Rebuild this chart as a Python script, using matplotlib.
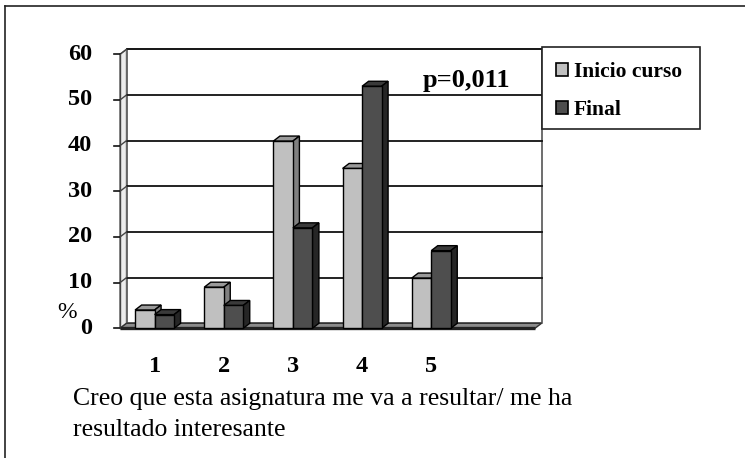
import matplotlib
matplotlib.use('Agg')
import matplotlib.pyplot as plt
from matplotlib.patches import Polygon, Patch, Rectangle
from matplotlib.lines import Line2D
import numpy as np

categories = ['1', '2', '3', '4', '5']
inicio = [4, 9, 41, 35, 11]
final = [3, 5, 22, 53, 17]
yticks = [0, 10, 20, 30, 40, 50, 60]
series_names = ['Inicio curso', 'Final']
p_text = 'p=0,011'
ylabel = '%'
caption = 'Creo que esta asignatura me va a resultar/ me ha\nresultado interesante'

plt.rcParams['font.family'] = ['Liberation Serif', 'DejaVu Serif']

W, H = 745, 458
fig = plt.figure(figsize=(W / 100, H / 100), dpi=100)

# pixel mapping of the front plane
nslots = 6
ymax = 60
x0_px, y0_px = 120, 328.3
px_per_x = 415 / nslots
px_per_y = 274 / ymax
ax_l, ax_r, ax_t, ax_b = 110, 552, 40, 338
ax = fig.add_axes([ax_l / W, 1 - ax_b / H, (ax_r - ax_l) / W, (ax_b - ax_t) / H])
ax.set_xlim((ax_l - x0_px) / px_per_x, (ax_r - x0_px) / px_per_x)
ax.set_ylim((y0_px - ax_b) / px_per_y, (y0_px - ax_t) / px_per_y)
ax.axis('off')

dx = 6.5 / px_per_x
dy = 5.0 / px_per_y

# back wall
ax.add_patch(Polygon([(dx, dy), (nslots + dx, dy), (nslots + dx, ymax + dy), (dx, ymax + dy)],
                     closed=True, facecolor='white', edgecolor='#555555', lw=1.2, zorder=1))
# side wall
ax.add_patch(Polygon([(0, 0), (dx, dy), (dx, ymax + dy), (0, ymax)],
                     closed=True, facecolor='#ececec', edgecolor='#666666', lw=1.0, zorder=1))
# gridlines
for v in yticks[1:]:
    ax.plot([dx, nslots + dx], [v + dy, v + dy], color='#111111', lw=1.3, zorder=1.5)
    ax.plot([0, dx], [v, v + dy], color='#444444', lw=1.0, zorder=1.5)
# floor
ax.add_patch(Polygon([(0, 0), (nslots, 0), (nslots + dx, dy), (dx, dy)],
                     closed=True, facecolor='#8c8c8c', edgecolor='#333333', lw=1.0, zorder=2))
ax.plot([0, nslots], [0, 0], color='#222222', lw=2.4, zorder=2.1, solid_capstyle='butt')
# ticks on front-left axis
tick_len = 6 / px_per_x
for v in yticks:
    ax.plot([-tick_len, 0], [v, v], color='#111111', lw=1.2, zorder=2)
    ax.text(-28 / px_per_x, v, str(v), ha='right', va='center', fontsize=17.5, fontweight='bold')
ax.plot([0, 0], [0, ymax], color='#444444', lw=1.0, zorder=2)

# bars
w = 19.5 / px_per_x
centers = np.arange(len(categories)) + 0.5
styles = [
    (inicio, centers - w, '#c0c0c0', '#9a9a9a', '#808080', 3),
    (final, centers, '#4e4e4e', '#3a3a3a', '#262626', 4),
]
for vals, lefts, cfront, ctop, cside, z in styles:
    ax.bar(lefts, vals, width=w, align='edge', color=cfront, edgecolor='black', lw=1.0, zorder=z + 0.2)
    for l, v in zip(lefts, vals):
        ax.add_patch(Polygon([(l, v), (l + w, v), (l + w + dx, v + dy), (l + dx, v + dy)],
                             closed=True, facecolor=ctop, edgecolor='black', lw=1.0, zorder=z))
        ax.add_patch(Polygon([(l + w, 0), (l + w + dx, dy), (l + w + dx, v + dy), (l + w, v)],
                             closed=True, facecolor=cside, edgecolor='black', lw=1.0, zorder=z))

# category labels
for c, lab in zip(centers, categories):
    ax.text(c, (y0_px - 366) / px_per_y, lab, ha='center', va='center', fontsize=17.5, fontweight='bold')

# p value
ax.text((423 - x0_px) / px_per_x, (y0_px - 80) / px_per_y, p_text, ha='left', va='center',
        fontsize=19, fontweight='bold', zorder=6)

# y label
fig.text(67 / W, 1 - 313 / H, ylabel, ha='center', va='center', fontsize=17)

# caption
fig.text(73 / W, 1 - 388 / H, caption, ha='left', va='top', fontsize=18.5, linespacing=1.5)

# legend (frame drawn separately so its box matches the reference size)
fig.add_artist(Rectangle((542 / W, 1 - 129 / H), (700 - 542) / W, (129 - 47) / H,
                         transform=fig.transFigure, facecolor='white', edgecolor='#222222',
                         lw=1.2, zorder=5))
handles = [Patch(facecolor='#c0c0c0', edgecolor='black', lw=1.2),
           Patch(facecolor='#4e4e4e', edgecolor='black', lw=1.2)]
leg = fig.legend(handles, series_names, loc='upper left', bbox_to_anchor=(545 / W, 1 - 51 / H),
                 bbox_transform=fig.transFigure, borderaxespad=0, frameon=False,
                 handlelength=0.55, handleheight=0.55,
                 handletextpad=0.3, labelspacing=0.85, borderpad=0.5,
                 prop={'family': 'Liberation Serif', 'weight': 'bold', 'size': 15.5})
leg.set_zorder(6)

# outer border (left and top)
fig.add_artist(Line2D([5 / W, 5 / W], [0, 1 - 6 / H], transform=fig.transFigure, color='#222222', lw=1.2))
fig.add_artist(Line2D([5 / W, 1], [1 - 6 / H, 1 - 6 / H], transform=fig.transFigure, color='#222222', lw=1.2))

fig.savefig('out.png', dpi=100)
